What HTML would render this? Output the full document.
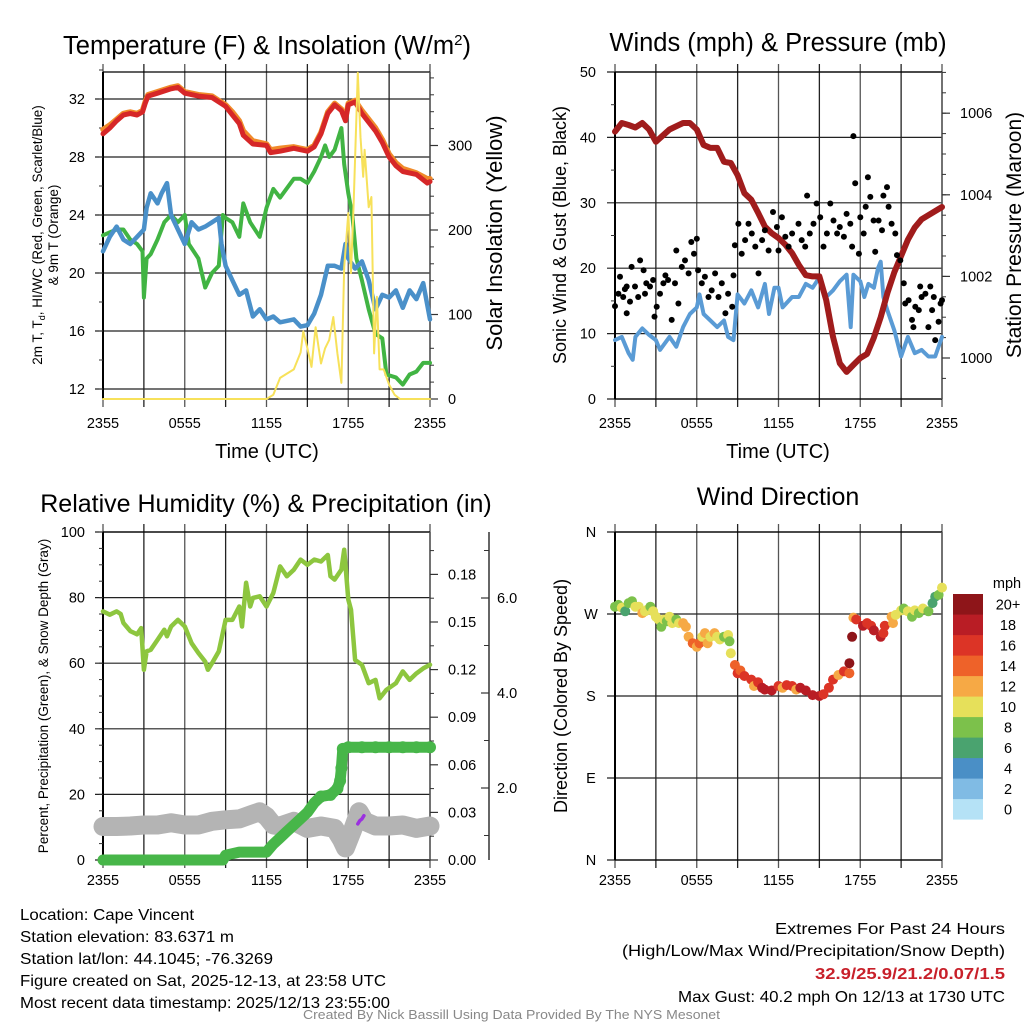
<!DOCTYPE html>
<html><head><meta charset="utf-8"><style>
html,body{margin:0;padding:0;background:#fff;}
svg{display:block;font-family:"Liberation Sans",Arial,sans-serif;}
</style></head><body>
<svg id="chart" width="1024" height="1024" viewBox="0 0 1024 1024" xmlns="http://www.w3.org/2000/svg">
<rect width="1024" height="1024" fill="#fff"/>
<g id="layer"></g>
<text x="267" y="54" font-size="25.5" text-anchor="middle">Temperature (F) &amp; Insolation (W/m<tspan dy="-9" font-size="15">2</tspan><tspan dy="9">)</tspan></text>
<text x="778" y="51" font-size="25.5" text-anchor="middle">Winds (mph) &amp; Pressure (mb)</text>
<text x="266" y="512" font-size="25" text-anchor="middle">Relative Humidity (%) &amp; Precipitation (in)</text>
<text x="778" y="505" font-size="25" text-anchor="middle">Wind Direction</text>
<text x="267" y="458" font-size="20" text-anchor="middle">Time (UTC)</text>
<text x="778" y="458" font-size="20" text-anchor="middle">Time (UTC)</text>
<text transform="translate(42,235) rotate(-90)" font-size="13.5" text-anchor="middle">2m T, T<tspan font-size="9" dy="3">d</tspan><tspan dy="-3">, HI/WC (Red, Green, Scarlet/Blue)</tspan></text>
<text transform="translate(58,235) rotate(-90)" font-size="13.5" text-anchor="middle">&amp; 9m T (Orange)</text>
<text transform="translate(502,233) rotate(-90)" font-size="22" text-anchor="middle">Solar Insolation (Yellow)</text>
<text transform="translate(566,235) rotate(-90)" font-size="18" text-anchor="middle">Sonic Wind &amp; Gust (Blue, Black)</text>
<text transform="translate(1021,235) rotate(-90)" font-size="21" text-anchor="middle">Station Pressure (Maroon)</text>
<text transform="translate(48,696) rotate(-90)" font-size="13.5" text-anchor="middle">Percent, Precipitation (Green), &amp; Snow Depth (Gray)</text>
<text transform="translate(567,696) rotate(-90)" font-size="18" text-anchor="middle">Direction (Colored By Speed)</text>
<g font-size="16">
<text x="20" y="920" textLength="174" lengthAdjust="spacingAndGlyphs">Location: Cape Vincent</text>
<text x="20" y="942" textLength="214" lengthAdjust="spacingAndGlyphs">Station elevation: 83.6371 m</text>
<text x="20" y="964" textLength="253" lengthAdjust="spacingAndGlyphs">Station lat/lon: 44.1045; -76.3269</text>
<text x="20" y="986" textLength="366" lengthAdjust="spacingAndGlyphs">Figure created on Sat, 2025-12-13, at 23:58 UTC</text>
<text x="20" y="1008" textLength="370" lengthAdjust="spacingAndGlyphs">Most recent data timestamp: 2025/12/13 23:55:00</text>
</g>
<g font-size="16">
<text x="775" y="934" textLength="230" lengthAdjust="spacingAndGlyphs">Extremes For Past 24 Hours</text>
<text x="622" y="956" textLength="383" lengthAdjust="spacingAndGlyphs">(High/Low/Max Wind/Precipitation/Snow Depth)</text>
<text x="815" y="979" textLength="190" lengthAdjust="spacingAndGlyphs" font-weight="bold" fill="#c8202a">32.9/25.9/21.2/0.07/1.5</text>
<text x="678" y="1002" textLength="327" lengthAdjust="spacingAndGlyphs">Max Gust: 40.2 mph On 12/13 at 1730 UTC</text>
</g>
<text x="303" y="1019" font-size="13" textLength="417" lengthAdjust="spacingAndGlyphs" fill="#888">Created By Nick Bassill Using Data Provided By The NYS Mesonet</text>
</svg>
<script>
// ---- data ----
const xTickLabels=["2355","0555","1155","1755","2355"];
const tempTicks=[12,16,20,24,28,32];
const solarTicks=[0,100,200,300];
const windTicks=[0,10,20,30,40,50];
const presTicks=[1000,1002,1004,1006];
const rhTicks=[0,20,40,60,80,100];
const precipTicks=["0.00","0.03","0.06","0.09","0.12","0.15","0.18"];
const snowTicks=["2.0","4.0","6.0"];
const dirLabels=["N","E","S","W","N"];
const speedLabels=["0","2","4","6","8","10","12","14","16","18","20+"];
const speedColors=["#b5e2f6","#80bbe4","#4a8fc6","#4aa36f","#7cc14b","#e6e05a","#f6a945","#ee6229","#dc3426","#b91d25","#8e1519"];

const redH=[0,0.5,1,1.5,2,2.5,2.9,3.1,3.3,4,5,5.5,6,7,8,8.5,9,9.5,10,10.3,11,12,12.3,13,14,15,15.5,16,16.5,17,17.5,17.8,18,18.5,19,20,20.5,21,21.5,22,23,23.8,24];
const redT=[29.6,30.0,30.5,30.9,31.0,30.9,31.1,31.7,32.2,32.4,32.7,32.8,32.4,32.2,32.1,31.8,31.5,30.9,30.3,29.5,28.9,28.8,28.3,28.4,28.6,28.4,28.7,29.6,31.0,31.6,31.2,30.5,31.6,31.8,31.0,29.8,29.0,28.0,27.4,27.0,26.8,26.2,26.3];
const orangeT=[29.9,30.2,30.6,31.0,31.1,31.0,31.2,31.8,32.3,32.5,32.8,32.9,32.5,32.3,32.2,31.9,31.6,31.1,30.5,29.8,29.1,28.9,28.5,28.6,28.7,28.5,28.8,29.7,31.1,31.7,31.3,30.7,31.7,31.9,31.2,30.0,29.2,28.2,27.6,27.2,26.9,26.5,26.5];
const blueH=[0,0.5,1,1.5,2,2.5,3,3.2,3.5,4,4.3,4.7,5,5.5,6,6.5,7,7.5,8,8.5,8.7,9,9.5,10,10.5,11,11.5,12,12.5,13,14,14.5,15,15.5,16,16.5,17,17.5,17.8,18,18.5,19,19.5,20,20.5,21,21.5,22,22.5,23,23.5,24];
const blueT=[21.5,22.5,23.2,22.3,22.0,22.5,23.0,24.5,25.5,24.8,25.5,26.2,24.0,23.0,22.0,23.5,23.0,23.2,23.5,23.8,22.0,20.5,19.5,18.5,18.8,17.0,17.5,16.8,17.0,16.6,16.8,16.3,16.4,17.2,18.5,20.5,20.5,20.3,22.0,21.0,20.3,20.8,19.5,17.5,18.5,18.3,18.8,17.6,18.8,18.2,19.3,16.8];
const greenH=[0,0.5,1,1.5,2,2.5,2.9,3,3.2,3.5,4,4.5,5,5.5,6,6.3,7,7.5,8,8.5,8.8,9,9.5,10,10.3,10.8,11.5,12,12.5,13,14,14.5,15,15.5,16,16.3,16.6,17,17.5,17.7,18,18.3,18.6,19,19.5,20,20.5,20.8,21.5,22,22.5,23,23.5,24];
const greenT=[22.6,22.8,23.0,23.0,22.3,22.0,21.5,18.3,21.0,21.3,22.3,23.5,24.0,23.5,24.0,22.0,21.0,19.0,20.0,20.5,24.0,23.8,23.5,22.5,24.8,23.5,22.5,24.5,25.8,25.2,26.5,26.5,26.2,27.0,28.0,28.8,28.0,28.5,30.0,27.5,25.5,24.0,21.0,19.5,17.5,15.8,15.5,13.0,12.8,12.3,13.0,13.2,13.8,13.8];
const solarH=[0,12,12.5,13,13.5,14,14.5,14.7,15,15.3,15.6,16,16.3,16.6,16.9,17.2,17.5,17.7,18,18.2,18.4,18.7,18.9,19.1,19.2,19.5,19.7,19.9,20.1,20.3,20.6,21,21.4,21.8,24];
const solarW=[0,0,5,25,30,35,55,80,60,38,85,42,60,70,97,54,19,156,220,149,233,386,310,263,295,227,239,54,121,35,35,17,5,0,0];

const presH=[0,0.5,1,1.5,2,2.5,3,3.5,4,5,5.5,6,6.5,7,7.5,8,8.5,9,9.5,10,10.5,11,11.5,12,12.5,13,13.5,14,14.5,15,15.5,16,16.5,17,17.5,18,18.5,19,19.5,20,20.5,21,21.5,22,22.5,23,24];
const presMb=[1005.55,1005.76,1005.71,1005.65,1005.76,1005.6,1005.3,1005.45,1005.6,1005.76,1005.76,1005.6,1005.22,1005.15,1005.15,1004.81,1004.78,1004.48,1004.04,1003.88,1003.56,1003.22,1003.06,1002.94,1002.78,1002.57,1002.28,1002.03,1002.0,1002.0,1001.42,1000.52,999.87,999.66,999.83,1000.0,1000.1,1000.5,1001.0,1001.6,1002.1,1002.5,1002.9,1003.2,1003.4,1003.5,1003.7];
const windH=[0,0.5,1,1.3,1.5,2,2.5,3,3.3,4,4.5,5,5.5,6,6.2,6.5,7,7.5,8,8.3,8.7,9,9.5,10,10.5,11,11.3,11.7,12,12.3,13,13.5,14,14.5,15,15.5,16,16.5,17,17.3,17.5,18,18.3,18.6,19,19.3,19.5,19.7,20,20.5,21,21.5,22,22.5,23,23.5,24];
const windMph=[9,9.5,7,6,9.5,10.8,9.8,9,7.5,9.5,8,11,13,14,16,13,12,11,12,9.5,9,16,14.6,16.6,14,17.6,13,17,17,14,15.6,15.6,17.6,17,18.6,15.6,16.6,18,19,11,19,18,15.6,17.6,17,20,21,15.6,13.5,10.5,6.5,9.5,7,7.5,6.5,6.5,9.5];
const gustH=[0,0.25,0.37,0.6,0.73,0.86,0.86,1.1,1.22,1.47,1.7,1.84,2.1,2.2,2.3,2.57,2.8,2.9,3.06,3.3,3.55,3.7,3.9,4.16,4.4,4.5,4.65,4.9,5.14,5.4,5.6,5.8,6.0,6.1,6.37,6.6,6.86,7.1,7.35,7.6,7.84,8.1,8.3,8.6,8.7,8.8,9.06,9.3,9.55,9.8,10.04,10.3,10.53,10.8,11.0,11.27,11.6,11.88,12.0,12.25,12.5,12.74,13,13.47,13.7,13.96,14.1,14.3,14.57,14.8,15.06,15.3,15.55,15.8,16.04,16.3,16.5,16.8,17.0,17.27,17.4,17.5,17.63,17.9,18.0,18.25,18.4,18.56,18.74,18.98,19.1,19.35,19.6,19.7,19.96,20.08,20.3,20.57,20.7,20.94,21.2,21.3,21.55,21.8,21.9,22.04,22.3,22.4,22.5,22.78,23.0,23.14,23.27,23.4,23.5,23.75,23.9,24];
const gustMph=[14.2,16.1,18.7,15.6,16.8,17.2,13.1,14.9,20.2,17.2,15.6,21.2,19.7,16.1,17.7,17.2,18.2,12.6,14.1,16.1,17.7,18.9,18.2,12.1,17.7,22.7,14.6,20.2,21.2,19.2,24,22.2,24.5,19.7,17.7,18.7,15.6,16.6,19.2,15.6,17.7,13.1,16.1,14.1,18.9,23.5,26.8,22.2,24.3,26.8,25.3,23.3,19.2,24.3,25.8,22.7,28.6,26.3,22.7,27.8,24.8,23.3,25.3,26.8,24.3,23.3,31.1,25.3,26.8,29.9,27.8,23.3,25.3,29.9,27.3,25.3,26.3,24.8,28.3,26.8,23.3,40.2,33,22.2,27.8,25.3,29.4,33.9,30.9,27.3,22.5,27.3,25.8,31.1,32.4,29.4,26.8,25.3,22,21.2,17.7,14.6,15.1,12.1,11,14.1,13.6,17.2,15.6,16.1,11,17.2,13.6,15.6,9,11.8,14.6,15.1];

const rhH=[0,0.5,1,1.3,1.5,2,2.5,2.8,3,3.2,3.5,4,4.5,4.7,5,5.5,6,6.5,7,7.5,7.7,8,8.5,9,9.5,10,10.2,10.5,10.8,11,11.5,12,12.5,13,13.5,14,14.5,15,15.5,16,16.5,16.7,17,17.5,17.7,18,18.2,18.5,19,19.5,20,20.3,20.8,21.5,22,22.5,23,23.5,24];
const rhPct=[75.8,74.8,75.8,75,72.3,69.8,68.8,70.7,58,63.6,64.1,67.1,70.2,68.2,71.2,73.2,71.2,66.1,63.1,60.5,58,60,63.6,73.2,73.2,77.3,71.2,84.5,77.3,79.9,80.4,77.3,81.4,89.5,86.5,88.5,91.6,90,91.6,91,93,86.5,85.5,88.5,94.6,79.4,76.3,61,59.5,53.9,54.9,49.3,51.9,53.9,57.5,54.9,56.9,58.4,59.5];
const precipH=[0,1,2,3,4,5,6,7,8,8.8,9,10,11,12,12.5,13,13.5,14,14.5,15,15.5,16,16.7,17.2,17.4,17.5,17.6,18,19,20,21,22,23,24];
const precipIn=[0,0,0,0,0,0,0,0,0,0,0.003,0.005,0.005,0.005,0.01,0.014,0.018,0.022,0.026,0.03,0.036,0.04,0.041,0.045,0.05,0.058,0.07,0.071,0.071,0.071,0.071,0.071,0.071,0.071];
const snowH=[0,1,2,3,4,5,6,7,8,9,10,11,11.5,12,12.5,13,14,15,16,17,17.5,17.8,18.3,18.8,19.2,20,21,22,23,24];
const snowIn=[1.19,1.19,1.2,1.22,1.22,1.27,1.22,1.22,1.3,1.33,1.35,1.45,1.5,1.4,1.22,1.2,1.3,1.15,1.2,1.15,0.92,0.74,1.1,1.5,1.3,1.2,1.2,1.22,1.15,1.2];
const purpleH=[18.7,18.85,19.0,19.15];
const purplePct=[11,12,12.5,13.5];

const dirH=[0,0.25,0.5,0.75,1,1.25,1.5,1.75,2,2.2,2.4,2.6,2.8,3,3.2,3.4,3.6,3.8,4,4.2,4.5,4.7,5,5.2,5.4,5.7,6,6.2,6.4,6.6,6.8,7,7.3,7.5,7.7,8,8.3,8.4,8.5,8.8,9,9.2,9.5,10,10.2,10.5,10.8,11,11.5,12,12.3,12.6,13,13.3,13.6,14,14.5,15,15.3,15.7,16,16.4,16.8,17.2,17.2,17.4,17.5,17.7,18.2,18.5,18.8,19,19.5,19.7,19.8,20.3,20.4,20.6,21,21.2,21.5,21.8,22,22.3,22.6,23,23.3,23.5,23.75,24];
const dirDeg=[278,280,277,273,282,284,278,278,271,273,275,278,273,267,264,256,264,262,267,260,264,260,260,256,245,238,234,238,245,249,238,245,249,245,242,245,247,240,227,214,205,208,202,198,191,195,189,187,186,191,189,192,191,187,189,186,181,180,182,189,198,203,207,205,216,245,266,264,257,260,257,252,245,249,257,267,260,269,274,276,273,267,274,271,276,273,282,289,291,299];
const dirSpd=[8,8,10,7,8,8,10,10,12,10,10,8,10,10,10,8,10,8,10,10,8,10,12,12,13,15,12,14,10,12,12,10,13,10,10,8,10,8,10,14,16,15,16,16,12,16,18,18,18,16,12,16,16,12,18,18,19,19,16,16,16,12,16,15,20,20,12,16,19,17,16,19,19,16,16,12,12,10,10,8,10,8,10,8,10,8,6,6,8,10];

// ---- drawing ----
const NS="http://www.w3.org/2000/svg";
const layer=document.getElementById('layer');
function mk(tag,attrs,parent){const e=document.createElementNS(NS,tag);for(const k in attrs)e.setAttribute(k,attrs[k]);(parent||layer).appendChild(e);return e;}
const P1={x0:103,x1:430,y0:72,y1:399},P2={x0:615,x1:942,y0:72,y1:399},P3={x0:103,x1:430,y0:532,y1:860},P4={x0:615,x1:942,y0:532,y1:860};
function X(p,h){return p.x0+h/24*(p.x1-p.x0);}
const yTemp=t=>99+(32-t)*14.5, ySolar=w=>399-w*0.845, yWind=v=>399-v*6.54, yPres=m=>358-(m-1000)*40.8;
const yRh=v=>860-v*3.28, yPrecip=v=>860-v/0.03*47.6, ySnow=v=>883-v*47.5, yDir=d=>860-d/360*328;

function frame(p,name,hticks,labelY){
  const g=mk('g',{});
  
  
  for(let i=0;i<=8;i++){const x=p.x0+i*(p.x1-p.x0)/8;
    const l=mk('line',{x1:x,x2:x,y1:p.y0-8,y2:p.y1+8,stroke:(i%2?'#222':'#555'),'stroke-width':1.3},g);
    
    }
  hticks.forEach(y=>{const l=mk('line',{x1:p.x0-8,x2:p.x1,y1:y,y2:y,stroke:'#222','stroke-width':1.2},g);
    
    });
  mk('line',{x1:p.x0,x2:p.x0,y1:p.y0,y2:p.y1,stroke:'#000','stroke-width':2},g);
  mk('line',{x1:p.x0,x2:p.x1,y1:p.y0,y2:p.y0,stroke:'#000','stroke-width':1.3},g);
  mk('line',{x1:p.x0,x2:p.x1,y1:p.y1,y2:p.y1,stroke:'#000','stroke-width':1.3},g);
  mk('line',{x1:p.x1,x2:p.x1,y1:p.y0,y2:p.y1,stroke:'#555','stroke-width':1.5},g);
  xTickLabels.forEach((s,i)=>{const t=mk('text',{x:X(p,i*6),y:labelY,'font-size':14.5,'text-anchor':'middle'},g);t.textContent=s;
    
    });
}
function ylabels(vals,fy,x,anchor,name,fmt){
  vals.forEach(v=>{const t=mk('text',{x:x,y:fy(v)+5,'font-size':14.5,'text-anchor':anchor});t.textContent=fmt?fmt(v):v;
    
    });
}
function rticks(p,ys,len,sw){ys.forEach(y=>mk('line',{x1:p.x1,x2:p.x1+len,y1:y,y2:y,stroke:'#333','stroke-width':sw||1}));}
function line(p,hs,vs,fy,color,w,name){
  const d=hs.map((h,i)=>(i?'L':'M')+X(p,h).toFixed(1)+','+fy(vs[i]).toFixed(1)).join(' ');
  const e=mk('path',{d:d,fill:'none',stroke:color,'stroke-width':w,'stroke-linejoin':'round','stroke-linecap':'round'});
  
  
  return e;
}
function dots(p,hs,vs,fy,color,r,name,colors){
  const g=mk('g',{});
  
  
  hs.forEach((h,i)=>{const c=mk('circle',{cx:X(p,h).toFixed(1),cy:fy(vs[i]).toFixed(1),r:r,fill:colors?colors[i]:color},g);
    
    });
}

// Panel 1
frame(P1,'temperature',tempTicks.map(yTemp),428);
ylabels(tempTicks,yTemp,85,'end','temperature-tick-label');
ylabels(solarTicks,ySolar,448,'start','solar-tick-label');
for(let t=12;t<=34;t+=2)mk('line',{x1:P1.x0-4,x2:P1.x0,y1:yTemp(t),y2:yTemp(t),stroke:'#333'});
rticks(P1,solarTicks.map(ySolar),8,1.2);
for(let w=0;w<=380;w+=20)rticks(P1,[ySolar(w)],4,1);
line(P1,redH,orangeT,yTemp,'#f08a2a',5.5,'orange-9m-temp-line');
line(P1,redH,redT,yTemp,'#d62728',5,'red-2m-temp-line');
line(P1,greenH,greenT,yTemp,'#41b443',4,'green-dewpoint-line');
line(P1,blueH,blueT,yTemp,'#4a90c9',4.5,'blue-windchill-line');
line(P1,solarH,solarW,ySolar,'#f7e15a',2,'yellow-solar-line');

// Panel 2
frame(P2,'winds',windTicks.map(yWind),428);
ylabels(windTicks,yWind,596,'end','wind-tick-label');
ylabels(presTicks,yPres,960,'start','pressure-tick-label');
for(let v=5;v<50;v+=10)mk('line',{x1:P2.x0-4,x2:P2.x0,y1:yWind(v),y2:yWind(v),stroke:'#333'});
rticks(P2,presTicks.map(yPres),8,1.2);
for(let m=999.5;m<=1007;m+=0.5)rticks(P2,[yPres(m)],4,1);
line(P2,windH,windMph,yWind,'#5a9bd5',4,'blue-sonic-wind-line');
line(P2,presH,presMb,yPres,'#a01c1c',6,'maroon-pressure-line');
dots(P2,gustH,gustMph,yWind,'#000',3,'black-gust-dots');

// Panel 3
frame(P3,'humidity',rhTicks.map(yRh),885);
ylabels(rhTicks,yRh,85,'end','rh-tick-label');
precipTicks.forEach(s=>{const y=yPrecip(parseFloat(s));mk('line',{x1:P3.x1,x2:P3.x1+8,y1:y,y2:y,stroke:'#333','stroke-width':1.2});
  const t=mk('text',{x:448,y:y+5,'font-size':14.5});t.textContent=s;
  
  });
for(let v=0.015;v<0.2;v+=0.03)rticks(P3,[yPrecip(v)],4,1);
for(let i=0;i<=20;i++)mk('line',{x1:P3.x0-4,x2:P3.x0,y1:yRh(i*5),y2:yRh(i*5),stroke:'#333'});
mk('line',{x1:489,x2:489,y1:532,y2:860,stroke:'#333','stroke-width':1.5});
snowTicks.forEach(s=>{const y=ySnow(parseFloat(s));mk('line',{x1:481,x2:489,y1:y,y2:y,stroke:'#333','stroke-width':1.2});
  const t=mk('text',{x:497,y:y+5,'font-size':14.5});t.textContent=s;
  
  });
for(let v=1;v<=7;v+=2)mk('line',{x1:484,x2:489,y1:ySnow(v),y2:ySnow(v),stroke:'#333'});
line(P3,snowH,snowIn,ySnow,'#b4b4b4',19,'gray-snow-depth-line');
line(P3,rhH,rhPct,yRh,'#8dc63f',4.5,'green-rh-line');
line(P3,precipH,precipIn,yPrecip,'#47b649',11,'green-precip-line');
dots(P3,precipH.filter((h,i)=>i>=21),precipIn.filter((v,i)=>i>=21),yPrecip,'#47b649',6,'green-precip-dots');
line(P3,purpleH,purplePct,yRh,'#9b30e0',3.5,'purple-snowfall-line');

// Panel 4
frame(P4,'direction',[0,90,180,270,360].map(yDir),885);
dirLabels.forEach((s,i)=>{const t=mk('text',{x:591,y:yDir(i*90)+5,'font-size':14.5,'text-anchor':'middle'});t.textContent=s;
  
  });
dots(P4,dirH,dirDeg,yDir,null,5,'wind-direction-dots',dirSpd.map(s=>speedColors[Math.min(10,Math.floor(s/2))]));

// Colorbar
const cb=mk('g',{});


const mt=mk('text',{x:1007,y:588,'font-size':14.5,'text-anchor':'middle'},cb);mt.textContent='mph';
speedLabels.forEach((s,i)=>{const y=594+(10-i)*20.5;
  const r=mk('rect',{x:953,y:y,width:30,height:20.6,fill:speedColors[i]},cb);
  
  
  const t=mk('text',{x:1008,y:y+15.5,'font-size':14.5,'text-anchor':'middle'},cb);t.textContent=s;
  
  });
</script>
</body></html>
